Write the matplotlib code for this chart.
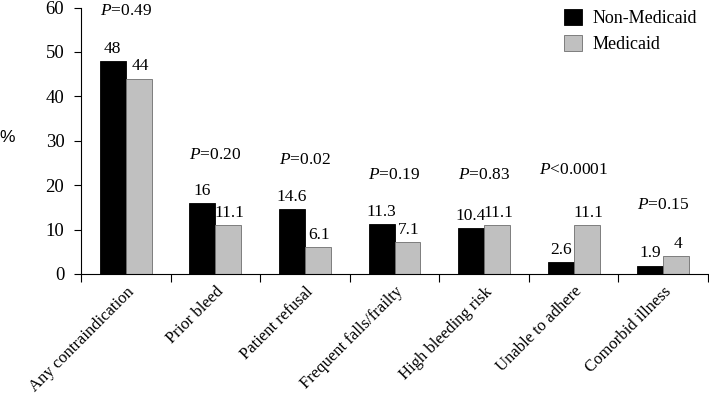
import numpy as np
import matplotlib
matplotlib.use("Agg")
import matplotlib.pyplot as plt
from matplotlib.patches import Patch

plt.rcParams['font.family'] = ['Liberation Serif', 'DejaVu Serif']
plt.rcParams['mathtext.fontset'] = 'custom'
plt.rcParams['mathtext.rm'] = 'Liberation Serif'
plt.rcParams['mathtext.it'] = 'Liberation Serif:italic'

categories = ['Any contraindication', 'Prior bleed', 'Patient refusal',
              'Frequent falls/frailty', 'High bleeding risk',
              'Unable to adhere', 'Comorbid illness']
non_medicaid = [48, 16, 14.6, 11.3, 10.4, 2.6, 1.9]
medicaid = [44, 11.1, 6.1, 7.1, 11.1, 11.1, 4]
non_labels = ['48', '16', '14.6', '11.3', '10.4', '2.6', '1.9']
med_labels = ['44', '11.1', '6.1', '7.1', '11.1', '11.1', '4']
p_values = ['$P$=0.49', '$P$=0.20', '$P$=0.02', '$P$=0.19', '$P$=0.83',
            '$P$<0.0001', '$P$=0.15']
p_label_y = [59.3, 26.8, 25.6, 22.3, 22.3, 23.4, 15.6]

fs = 12.5

fig = plt.figure(figsize=(7.09, 4.00), dpi=100)
ax = fig.add_axes([81 / 709, 126 / 400, 627 / 709, 266.5 / 400])

x = np.arange(len(categories))
w = 0.29
b1 = ax.bar(x - w / 2, non_medicaid, w, color='black', edgecolor='black', linewidth=0.6)
b2 = ax.bar(x + w / 2, medicaid, w, color='#c0c0c0', edgecolor='#6e6e6e', linewidth=0.6)

for rect, lab in zip(b1, non_labels):
    ax.annotate(lab, (rect.get_x() + rect.get_width() / 2, rect.get_height()),
                xytext=(0, 3), textcoords='offset points', ha='center', va='bottom', fontsize=fs)
for rect, lab in zip(b2, med_labels):
    ax.annotate(lab, (rect.get_x() + rect.get_width() / 2, rect.get_height()),
                xytext=(1, 3), textcoords='offset points', ha='center', va='bottom', fontsize=fs)

for xi, txt, yy in zip(x, p_values, p_label_y):
    ax.text(xi, yy, txt, ha='center', va='center', fontsize=fs)

ax.set_xlim(-0.5, len(categories) - 0.5)
ax.set_ylim(0, 60)
ax.set_yticks(range(0, 61, 10))
ax.tick_params(axis='y', direction='out', length=5, width=0.8, pad=7, labelsize=13.5)

# tick marks between groups, labels at group centers
ax.set_xticks(np.arange(-0.5, len(categories), 1.0))
ax.set_xticklabels([])
ax.tick_params(axis='x', which='major', direction='out', length=6, width=0.8)
ax.set_xticks(x, minor=True)
ax.set_xticklabels(categories, minor=True, rotation=45, ha='right',
                   rotation_mode='anchor', fontsize=12)
ax.tick_params(axis='x', which='minor', length=0, pad=7)

for s in ['top', 'right']:
    ax.spines[s].set_visible(False)
for s in ['left', 'bottom']:
    ax.spines[s].set_linewidth(0.8)

fig.text(7 / 709, 1 - 137 / 400, '%', ha='center', va='center', fontsize=12.5,
         family=['Liberation Sans', 'DejaVu Sans'])

handles = [Patch(facecolor='black', edgecolor='black', linewidth=0.6),
           Patch(facecolor='#c0c0c0', edgecolor='#6e6e6e', linewidth=0.6)]
fig.legend(handles, ['Non-Medicaid', 'Medicaid'], loc='upper left',
           bbox_to_anchor=(555 / 709, 1.0), frameon=False, fontsize=13,
           handlelength=1.0, handleheight=1.0, handletextpad=0.6, labelspacing=0.4,
           borderaxespad=0.1)

fig.savefig('out.png', dpi=100)
